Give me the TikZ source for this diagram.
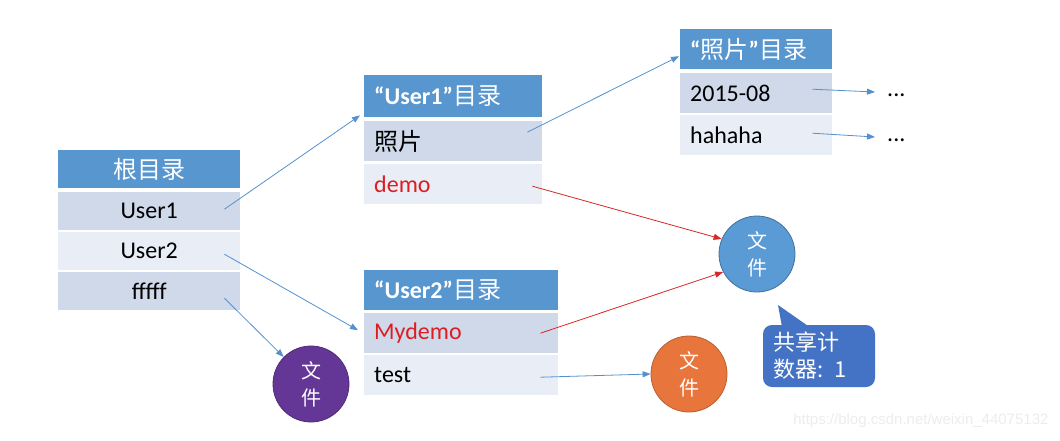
\documentclass[tikz,border=0pt]{standalone}
\usepackage{fontspec}
\setmainfont{Carlito}
\newfontfamily\cjk{Noto Sans CJK SC}
\newfontfamily\wmfont{Liberation Sans}
\usetikzlibrary{arrows.meta,calc}
\definecolor{hdr}{RGB}{88,150,208}
\definecolor{rowA}{RGB}{207,217,234}
\definecolor{rowB}{RGB}{233,237,246}
\definecolor{redtxt}{RGB}{220,30,35}
\definecolor{bline}{RGB}{85,145,205}
\definecolor{rline}{RGB}{215,40,40}
\definecolor{fblueC}{RGB}{91,155,213}
\definecolor{fblueD}{RGB}{65,113,156}
\definecolor{purp}{RGB}{100,55,150}
\definecolor{orng}{RGB}{232,117,60}
\definecolor{callC}{RGB}{68,114,196}
\tikzset{
  cellbase/.style={rectangle, anchor=north west, inner xsep=10pt, inner ysep=0pt,
    font=\fontsize{24}{28}\selectfont},
  hcell/.style={cellbase, fill=hdr, text=white},
  acell/.style={cellbase, fill=rowA},
  bcell/.style={cellbase, fill=rowB},
  conn/.style={draw=bline, line width=0.8pt, -{Triangle[length=8pt,width=6pt]}},
  rconn/.style={draw=rline, line width=0.8pt, -{Triangle[length=8pt,width=6pt]}},
  filec/.style={circle, minimum size=76pt, inner sep=0pt, text=white, align=center,
    font=\cjk\fontsize{20}{27}\selectfont, line width=0.8pt},
  dotsnode/.style={anchor=base west, inner sep=0pt, font=\fontsize{24}{28}\selectfont},
}
\begin{document}
\begin{tikzpicture}[x=1pt,y=-1pt]
\path[use as bounding box, fill=white] (0,0) rectangle (1060,440);

% root table
\node[hcell, minimum width=182pt, minimum height=38pt, text width=162pt, align=center] (rh) at (58,150) {\cjk 根目录};
\node[acell, minimum width=182pt, minimum height=38pt, text width=162pt, align=center] (r1) at (58,192) {User1};
\node[bcell, minimum width=182pt, minimum height=38pt, text width=162pt, align=center] (r2) at (58,232) {User2};
\node[acell, minimum width=182pt, minimum height=38pt, text width=162pt, align=center] (r3) at (58,272) {fffff};

% User1 table
\node[hcell, minimum width=178pt, minimum height=42pt, text width=158pt, align=left] (u1h) at (364,75) {\textbf{“User1”}{\cjk 目录}};
\node[acell, minimum width=178pt, minimum height=40pt, text width=158pt, align=left] (u1a) at (364,121) {\cjk 照片};
\node[bcell, minimum width=178pt, minimum height=40pt, text width=158pt, align=left, text=redtxt] (u1b) at (364,164) {demo};

% photo table
\node[hcell, minimum width=152pt, minimum height=40pt, text width=132pt, align=left] (ph) at (680,29) {\textbf{“}{\cjk 照片}\textbf{”}{\cjk 目录}};
\node[acell, minimum width=152pt, minimum height=40pt, text width=132pt, align=left] (p1) at (680,73) {2015-08};
\node[bcell, minimum width=152pt, minimum height=40pt, text width=132pt, align=left] (p2) at (680,115) {hahaha};

% User2 table
\node[hcell, minimum width=194pt, minimum height=40pt, text width=174pt, align=left] (u2h) at (364,270) {\textbf{“User2”}{\cjk 目录}};
\node[acell, minimum width=194pt, minimum height=40pt, text width=174pt, align=left, text=redtxt] (u2a) at (364,313) {Mydemo};
\node[bcell, minimum width=194pt, minimum height=40pt, text width=174pt, align=left] (u2b) at (364,355) {test};

% files
\node[filec, fill=fblueC, draw=fblueD] (fblue) at (757,254) {文\\件};
\node[filec, fill=purp, draw=purp!80!black] (fpurple) at (311,384) {文\\件};
\node[filec, fill=orng, draw=orng!80!black] (forange) at (689,374) {文\\件};

% dots
\node[dotsnode] (d1) at (887,96) {...};
\node[dotsnode] (d2) at (887,141) {...};

% callout
\node[rectangle, rounded corners=9pt, fill=callC, text=white, minimum width=112pt, minimum height=62pt,
  text width=92pt, align=left, inner xsep=10pt, font=\cjk\fontsize{22}{27}\selectfont] (cnt) at (819,356) {共享计\\数器: 1};
\coordinate (tip) at (778,305);
\fill[callC] ($(cnt.north west)+(19,1)$) -- (tip) -- ($(cnt.north west)+(45,1)$) -- cycle;

% connectors
\draw[conn] ($(r1.east)+(-16,-2)$) -- ($(u1h.south west)+(-4,-2)$);
\draw[conn] ($(r2.east)+(-16,3)$) -- ($(u2a.west)+(-6,-3)$);
\draw[conn] ($(r3.east)+(-16,7)$) -- (fpurple);
\draw[conn] ($(u1a.east)+(-15,-9)$) -- ($(ph.west)+(-1,7)$);
\draw[rconn] ($(u1b.east)+(-10,2)$) -- (fblue.157);
\draw[rconn] ($(u2a.east)+(-18,0)$) -- (fblue.208);
\draw[conn] ($(u2b.east)+(-18,2)$) -- (forange.west);
\draw[conn] ($(p1.east)+(-20,-4)$) -- ($(d1.base west)+(-12,-4)$);
\draw[conn] ($(p2.east)+(-20,-2)$) -- ($(d2.base west)+(-12,-4)$);

% watermark
\node[anchor=east, text=black!7, font=\wmfont\fontsize{15}{18}\selectfont] (wm) at (1052,421) {https://blog.csdn.net/weixin\_44075132};
\end{tikzpicture}
\end{document}
